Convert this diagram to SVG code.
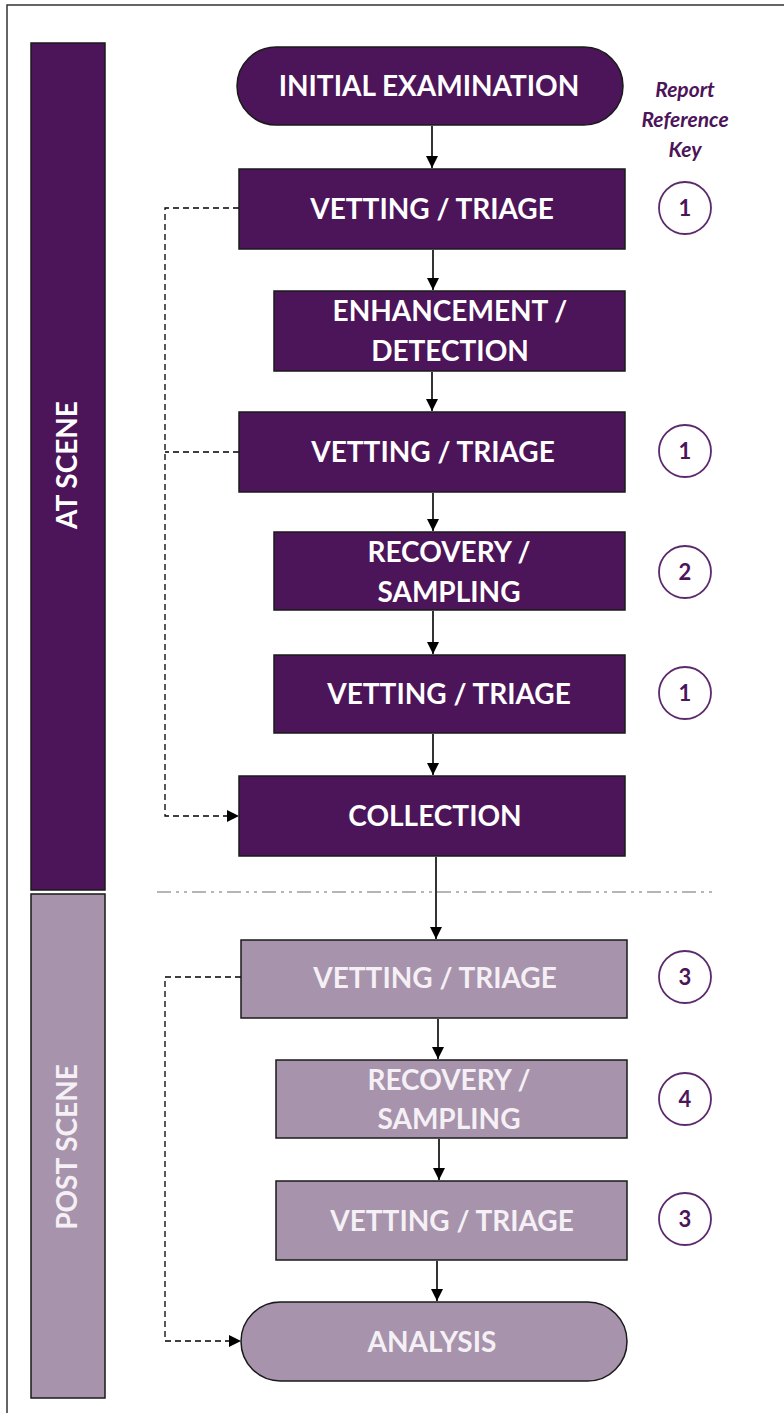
<svg xmlns="http://www.w3.org/2000/svg" width="784" height="1413" viewBox="0 0 784 1413">
<defs>
<marker id="ah" viewBox="0 0 10 10" refX="10" refY="5" markerWidth="12" markerHeight="12" markerUnits="userSpaceOnUse" orient="auto"><path d="M0,0 L10,5 L0,10 z" fill="#000"/></marker>
<style>
.dk{fill:#4c1459;stroke:#1a1a1a;stroke-width:1.5}
.lt{fill:#a793ab;stroke:#1a1a1a;stroke-width:1.5}
.t{font-family:Lato,"Liberation Sans",sans-serif;font-weight:bold;font-size:28px;fill:#fff;text-anchor:middle}
.ltt{fill:#f4f0f5}
.c{fill:#fff;stroke:#5b2a6c;stroke-width:1.8}
.n{font-family:Lato,"Liberation Sans",sans-serif;font-weight:bold;font-size:22px;fill:#4c1459;text-anchor:middle}
.k{font-family:Lato,"Liberation Sans",sans-serif;font-weight:bold;font-style:italic;font-size:21px;fill:#4c1459;text-anchor:middle}
.a{stroke:#000;stroke-width:1.6;fill:none;marker-end:url(#ah)}
.d{stroke:#000;stroke-width:1.3;fill:none;stroke-dasharray:6,4}
</style>
</defs>
<rect x="0" y="0" width="784" height="1413" fill="#fff"/>
<rect x="7" y="5" width="800" height="1420" fill="none" stroke="#333" stroke-width="1.5"/>
<line x1="157" y1="892" x2="714" y2="892" stroke="#b5b5b5" stroke-width="2" stroke-dasharray="14,5,3,5,3,5"/>

<g id="bar-at-scene">
<rect class="dk" x="31" y="43" width="74" height="847"/>
<text class="t" transform="translate(77,465) rotate(-90)">AT SCENE</text>
</g>
<g id="bar-post-scene">
<rect class="lt" x="31" y="894" width="74" height="504"/>
<text class="t ltt" transform="translate(77,1147) rotate(-90)">POST SCENE</text>
</g>

<g id="key">
<text class="k" x="685" y="97">Report</text>
<text class="k" x="685" y="127">Reference</text>
<text class="k" x="685" y="157">Key</text>
</g>

<g id="connectors">
<line class="a" x1="432" y1="126" x2="432" y2="168"/>
<line class="a" x1="433" y1="250" x2="433" y2="290"/>
<line class="a" x1="432" y1="372" x2="432" y2="411"/>
<line class="a" x1="433" y1="493" x2="433" y2="531"/>
<line class="a" x1="433" y1="611" x2="433" y2="654"/>
<line class="a" x1="433" y1="734" x2="433" y2="775"/>
<line class="a" x1="436" y1="857" x2="436" y2="939"/>
<line class="a" x1="438" y1="1019" x2="438" y2="1059"/>
<line class="a" x1="439" y1="1139" x2="439" y2="1180"/>
<line class="a" x1="437" y1="1261" x2="437" y2="1301"/>
<path class="d" d="M239,208 H165 V816 H228"/>
<path class="d" d="M239,452 H165"/>
<path class="d" d="M241,977 H165 V1341 H230"/>
<path d="M227,810 L239,816 L227,822 z" fill="#000"/>
<path d="M229,1335 L241,1341 L229,1347 z" fill="#000"/>
</g>

<g id="n-initial">
<rect class="dk" x="237" y="47" width="386" height="78" rx="39"/>
<text class="t" x="429" y="96">INITIAL EXAMINATION</text>
</g>
<g id="n-vt1">
<rect class="dk" x="239" y="169" width="386" height="80"/>
<text class="t" x="432" y="219">VETTING / TRIAGE</text>
<circle class="c" cx="685" cy="208" r="26"/><text class="n" x="685" y="216">1</text>
</g>
<g id="n-enh">
<rect class="dk" x="274" y="291" width="351" height="80"/>
<text class="t" x="450" y="321">ENHANCEMENT /</text>
<text class="t" x="450" y="361">DETECTION</text>
</g>
<g id="n-vt2">
<rect class="dk" x="239" y="412" width="386" height="80"/>
<text class="t" x="433" y="462">VETTING / TRIAGE</text>
<circle class="c" cx="685" cy="451" r="26"/><text class="n" x="685" y="459">1</text>
</g>
<g id="n-rec1">
<rect class="dk" x="274" y="532" width="351" height="78"/>
<text class="t" x="449" y="562">RECOVERY /</text>
<text class="t" x="449" y="602">SAMPLING</text>
<circle class="c" cx="685" cy="572" r="26"/><text class="n" x="685" y="580">2</text>
</g>
<g id="n-vt3">
<rect class="dk" x="274" y="655" width="351" height="78"/>
<text class="t" x="449" y="704">VETTING / TRIAGE</text>
<circle class="c" cx="685" cy="693" r="26"/><text class="n" x="685" y="701">1</text>
</g>
<g id="n-collection">
<rect class="dk" x="239" y="776" width="386" height="80"/>
<text class="t" x="435" y="826">COLLECTION</text>
</g>
<g id="n-vt4">
<rect class="lt" x="241" y="940" width="386" height="78"/>
<text class="t ltt" x="435" y="988">VETTING / TRIAGE</text>
<circle class="c" cx="685" cy="977" r="26"/><text class="n" x="685" y="985">3</text>
</g>
<g id="n-rec2">
<rect class="lt" x="276" y="1060" width="351" height="78"/>
<text class="t ltt" x="449" y="1090">RECOVERY /</text>
<text class="t ltt" x="449" y="1129">SAMPLING</text>
<circle class="c" cx="685" cy="1099" r="26"/><text class="n" x="685" y="1107">4</text>
</g>
<g id="n-vt5">
<rect class="lt" x="276" y="1181" width="351" height="79"/>
<text class="t ltt" x="452" y="1231">VETTING / TRIAGE</text>
<circle class="c" cx="685" cy="1219" r="26"/><text class="n" x="685" y="1227">3</text>
</g>
<g id="n-analysis">
<rect class="lt" x="241" y="1302" width="386" height="79" rx="39.5"/>
<text class="t ltt" x="432" y="1352">ANALYSIS</text>
</g>
</svg>
